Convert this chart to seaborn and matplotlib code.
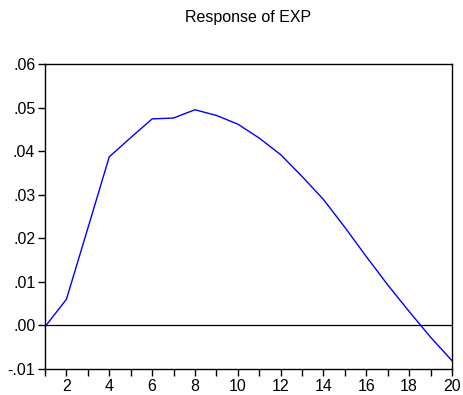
import matplotlib
matplotlib.use("Agg")
import matplotlib.pyplot as plt
import seaborn as sns
import pandas as pd

# Impulse response of EXP over 20 periods
periods = list(range(1, 21))
response = [-0.0003, 0.0060, 0.0223, 0.0387, 0.0431, 0.0474, 0.0476, 0.0495,
            0.0482, 0.0462, 0.0430, 0.0392, 0.0342, 0.0289, 0.0225, 0.0158,
            0.0093, 0.0032, -0.0027, -0.0081]
y_ticks = [-0.01, 0.00, 0.01, 0.02, 0.03, 0.04, 0.05, 0.06]
y_tick_labels = ["-.01", ".00", ".01", ".02", ".03", ".04", ".05", ".06"]
x_label_ticks = list(range(2, 21, 2))

sns.set_theme(style="white")
plt.rcParams["font.family"] = ["Liberation Sans", "DejaVu Sans"]

df = pd.DataFrame({"period": periods, "response": response})

fig = plt.figure(figsize=(4.63, 3.95), dpi=100)
ax = fig.add_axes([45 / 463, 1 - 369 / 395, (452 - 45) / 463, (369 - 64) / 395])

ax.axhline(0, color="black", lw=0.9, zorder=1)
sns.lineplot(data=df, x="period", y="response", ax=ax, color="#0000ff", lw=1.0, zorder=2)

ax.set_xlim(1, 20)
ax.set_ylim(-0.01, 0.06)
ax.set_xticks(periods, minor=False)
ax.set_xticklabels([str(p) if p in x_label_ticks else "" for p in periods])
ax.set_yticks(y_ticks)
ax.set_yticklabels(y_tick_labels)
ax.set_xlabel("")
ax.set_ylabel("")

for s in ax.spines.values():
    s.set_color("black")
    s.set_linewidth(1.0)

ax.tick_params(axis="both", which="major", direction="out", length=5, width=1,
               color="black", labelsize=11.5, labelcolor="black", pad=2,
               bottom=True, left=True)

ax.set_title("Response of EXP", fontsize=11.5, pad=30, color="black")

fig.savefig("out.png", dpi=100)
